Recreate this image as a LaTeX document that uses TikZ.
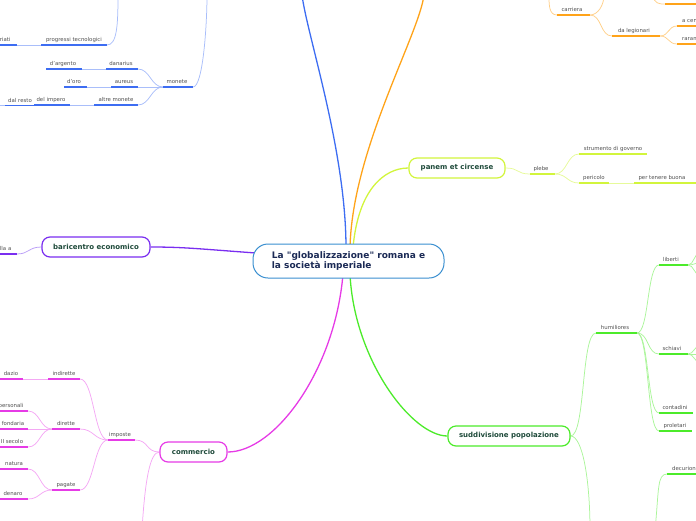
\documentclass[tikz,border=0pt]{standalone}
\usepackage{fontspec}
\setmainfont{DejaVu Sans}
\newfontfamily\plainfont{DejaVu Sans}
\definecolor{B}{HTML}{3D6DF2}\definecolor{LB}{HTML}{A9BEFA}
\definecolor{O}{HTML}{FFA319}\definecolor{LO}{HTML}{FFD08A}
\definecolor{Y}{HTML}{D2F53C}\definecolor{LY}{HTML}{E6FA99}
\definecolor{P}{HTML}{7A2EF0}\definecolor{LP}{HTML}{B99CF7}
\definecolor{M}{HTML}{E63BE6}\definecolor{LM}{HTML}{F4A8F4}
\definecolor{G}{HTML}{4CEB2A}\definecolor{LG}{HTML}{ABF59A}
\definecolor{CB}{HTML}{3A8FD0}\definecolor{TG}{HTML}{1E4A3A}
\definecolor{NV}{HTML}{1B2A55}\definecolor{TX}{HTML}{505050}
\pgfdeclarelayer{bg}\pgfsetlayers{bg,main}
\tikzset{
  ul/.style={line width=1.6pt, draw=#1},
  conn/.style={line width=0.75pt, draw=#1},
  branch/.style={line width=1.3pt, draw=#1},
  sub/.style={font=\fontsize{5.4}{6}\selectfont, text=TX, inner sep=0pt},
  mainbox/.style={draw=#1, line width=1.2pt, rounded corners=8pt, minimum height=20pt,
    fill=white, font=\bfseries\fontsize{7}{8}\selectfont, text=TG, inner sep=0pt},
}
% name, xl, xr, y, text, colour, text x (centre)
\newcommand\subtopic[7]{%
  \coordinate (#1l) at (#2,#4);
  \coordinate (#1r) at (#3,#4);
  \draw[ul=#6] (#1l) -- (#1r);
  \node[sub, anchor=base] (#1) at (#7,#4-3.2) {#5};
}
% same, text anchored at its left end
\newcommand\subtopicL[7]{%
  \coordinate (#1l) at (#2,#4);
  \coordinate (#1r) at (#3,#4);
  \draw[ul=#6] (#1l) -- (#1r);
  \node[sub, anchor=base west] (#1) at (#7,#4-3.2) {#5};
}
\begin{document}
\begin{tikzpicture}[x=1pt,y=-1pt]
\useasboundingbox (0,0) rectangle (696,520);

% ---------- main nodes ----------
\node[draw=CB, line width=1pt, rounded corners=15pt, minimum width=191pt, minimum height=34pt,
  fill=white, align=left, text=NV, font=\plainfont\bfseries\fontsize{9}{10.5}\selectfont]
  (c) at (348.5,261) {La "globalizzazione" romana e\\la società imperiale};
\node[mainbox=Y, minimum width=96pt] (pan) at (457,168) {panem et circense};
\node[mainbox=P, minimum width=108pt] (bar) at (96,247) {baricentro economico};
\node[mainbox=M, minimum width=67pt] (com) at (193.5,452) {commercio};
\node[mainbox=G, minimum width=122pt] (sud) at (509,436) {suddivisione popolazione};

\coordinate (cb) at (346,248);
\coordinate (co) at (350,248);
\coordinate (cy) at (353,248);
\coordinate (cp) at (256,253);
\coordinate (cm) at (343,274);
\coordinate (cg) at (350,274);
\coordinate (bluetop) at (302,-5);
\coordinate (orangetop) at (424,-5);

% ---------- blue ----------
\subtopic{prog}{41}{107}{45}{progressi tecnologici}{B}{74}
\subtopic{var}{-10}{17}{45}{variati}{B}{2}
\subtopic{mon}{163}{193}{87}{monete}{B}{177}
\subtopic{dan}{106}{138}{69}{danarius}{B}{121}
\subtopic{darg}{46}{82}{69}{d'argento}{B}{63}
\subtopic{aur}{111}{138}{87}{aureus}{B}{124}
\subtopic{doro}{64}{87}{87}{d'oro}{B}{74}
\subtopic{alt}{94}{138}{105}{altre monete}{B}{116}
\subtopic{imp}{34}{70}{105}{del impero}{B}{51}
\subtopic{res}{5}{34}{105.5}{dal resto}{B}{20}
\coordinate (progtop) at (118,-5);
\coordinate (montop) at (207,-5);
\coordinate (resend) at (-5,105.5);

% ---------- orange ----------
\subtopic{car}{557}{590}{15}{carriera}{O}{572}
\subtopic{leg}{612}{660}{36}{da legionari}{O}{634}
\subtopicL{cen}{677}{710}{26}{a centurione}{O}{682}
\subtopicL{rar}{677}{710}{44}{raramente}{O}{682}
\coordinate (topl) at (665,4);
\coordinate (topr) at (710,4);
\draw[ul=O] (topl) -- (topr);
\coordinate (cartopl) at (549,-5);
\coordinate (cartopr) at (604,-5);
\coordinate (toptop) at (652,-5);

% ---------- yellow ----------
\subtopic{ple}{530}{555}{174}{plebe}{Y}{541}
\subtopic{str}{579}{647}{154}{strumento di governo}{Y}{613}
\subtopic{per}{579}{609}{183}{pericolo}{Y}{594}
\subtopic{ten}{634}{700}{183}{per tenere buona}{Y}{662}

% ---------- purple ----------
\subtopic{ala}{-10}{17}{254}{alla a}{P}{4}

% ---------- magenta ----------
\subtopic{ips}{108}{135}{440}{imposte}{M}{120}
\subtopic{ind}{48}{80}{379}{indirette}{M}{64}
\subtopic{daz}{-5}{23}{379}{dazio}{M}{11}
\subtopic{dir}{52}{80}{429}{dirette}{M}{66}
\subtopic{pers}{-5}{28}{411}{personali}{M}{11}
\subtopic{fon}{-5}{28}{429}{fondaria}{M}{13}
\subtopic{sec}{-5}{28}{447}{II secolo}{M}{12}
\subtopic{pag}{52}{80}{490}{pagate}{M}{66}
\subtopic{nat}{-5}{28}{469}{natura}{M}{14}
\subtopic{den}{-5}{28}{499}{denaro}{M}{13}
\coordinate (comdown) at (142,530);

% ---------- green ----------
\subtopic{hum}{596}{637}{333}{humiliores}{G}{615}
\subtopic{lib}{659}{688}{265}{liberti}{G}{671}
\subtopic{sch}{659}{688}{354}{schiavi}{G}{672}
\subtopic{con}{659}{693}{413}{contadini}{G}{675}
\subtopic{pro}{659}{692}{431}{proletari}{G}{675}
\subtopicL{dec}{667}{710}{474}{decurioni}{G}{672}
\coordinate (suddown) at (590,530);
\coordinate (decdown) at (655,530);
\coordinate (lib1) at (700,253);
\coordinate (lib2) at (700,263);
\coordinate (lib3) at (700,275);
\coordinate (sch1) at (700,346);
\coordinate (sch2) at (700,354);
\coordinate (sch3) at (700,362);

\begin{pgfonlayer}{bg}
% main branches
\draw[branch=B] (cb) .. controls (346,150) and (307,35) .. (bluetop);
\draw[branch=O] (co) .. controls (352,150) and (419,35) .. (orangetop);
\draw[branch=Y] (cy) .. controls (358,190) and (384,168) .. (pan.west);
\draw[branch=P] (cp) .. controls (200,249) and (185,247) .. (bar.east);
\draw[branch=M] (cm) .. controls (335,370) and (275,452) .. (com.east);
\draw[branch=G] (cg) .. controls (354,360) and (412,436) .. (sud.west);

% blue
\draw[conn=LB] (progr) .. controls +(10,0) and +(0,30) .. (progtop);
\draw[conn=LB] (varr) -- (progl);
\draw[conn=LB] (monr) .. controls +(10,0) and +(0,30) .. (montop);
\draw[conn=LB] (monl) .. controls +(-12,0) and +(12,0) .. (danr);
\draw[conn=LB] (monl) -- (aurr);
\draw[conn=LB] (monl) .. controls +(-12,0) and +(12,0) .. (altr);
\draw[conn=LB] (danl) -- (dargr);
\draw[conn=LB] (aurl) -- (doror);
\draw[conn=LB] (altl) -- (impr);
\draw[conn=LB] (resl) -- (resend);

% orange
\draw[conn=LO] (carl) .. controls +(-8,0) and +(0,10) .. (cartopl);
\draw[conn=LO] (carr) .. controls +(8,0) and +(0,10) .. (cartopr);
\draw[conn=LO] (carr) .. controls +(12,0) and +(-12,0) .. (legl);
\draw[conn=LO] (legr) .. controls +(9,0) and +(-9,0) .. (cenl);
\draw[conn=LO] (legr) .. controls +(9,0) and +(-9,0) .. (rarl);
\draw[conn=LO] (toptop) .. controls +(3,9) and +(-6,0) .. (topl);

% yellow
\draw[conn=LY] (pan.east) .. controls +(14,0) and +(-14,0) .. (plel);
\draw[conn=LY] (pler) .. controls +(12,0) and +(-12,0) .. (strl);
\draw[conn=LY] (pler) .. controls +(12,0) and +(-12,0) .. (perl);
\draw[conn=LY] (perr) -- (tenl);

% purple
\draw[conn=LP] (bar.west) .. controls +(-13,0) and +(12,0) .. (alar);

% magenta
\draw[conn=LM] (com.west) .. controls +(-14,0) and +(14,0) .. (ipsr);
\draw[conn=LM] (com.west) .. controls (150,452) and (145,480) .. (comdown);
\draw[conn=LM] (ipsl) .. controls +(-14,0) and +(14,0) .. (indr);
\draw[conn=LM] (ipsl) .. controls +(-14,0) and +(14,0) .. (dirr);
\draw[conn=LM] (ipsl) .. controls +(-14,0) and +(14,0) .. (pagr);
\draw[conn=LM] (indl) -- (dazr);
\draw[conn=LM] (dirl) .. controls +(-12,0) and +(12,0) .. (persr);
\draw[conn=LM] (dirl) -- (fonr);
\draw[conn=LM] (dirl) .. controls +(-12,0) and +(12,0) .. (secr);
\draw[conn=LM] (pagl) .. controls +(-12,0) and +(12,0) .. (natr);
\draw[conn=LM] (pagl) .. controls +(-12,0) and +(12,0) .. (denr);

% green
\draw[conn=LG] (sud.east) .. controls +(15,0) and +(-15,0) .. (huml);
\draw[conn=LG] (sud.east) .. controls +(12,0) and +(0,-50) .. (suddown);
\draw[conn=LG] (humr) .. controls +(12,0) and +(-12,0) .. (libl);
\draw[conn=LG] (humr) .. controls +(12,0) and +(-12,0) .. (schl);
\draw[conn=LG] (humr) .. controls +(12,0) and +(-12,0) .. (conl);
\draw[conn=LG] (humr) .. controls +(12,0) and +(-12,0) .. (prol);
\draw[conn=LG] (libr) .. controls +(6,0) and +(-6,0) .. (lib1);
\draw[conn=LG] (libr) .. controls +(6,0) and +(-6,0) .. (lib2);
\draw[conn=LG] (libr) .. controls +(6,0) and +(-6,0) .. (lib3);
\draw[conn=LG] (schr) .. controls +(6,0) and +(-6,0) .. (sch1);
\draw[conn=LG] (schr) .. controls +(6,0) and +(-6,0) .. (sch2);
\draw[conn=LG] (schr) .. controls +(6,0) and +(-6,0) .. (sch3);
\draw[conn=LG] (decdown) .. controls +(4,-40) and +(-10,0) .. (decl);
\end{pgfonlayer}
\end{tikzpicture}
\end{document}
